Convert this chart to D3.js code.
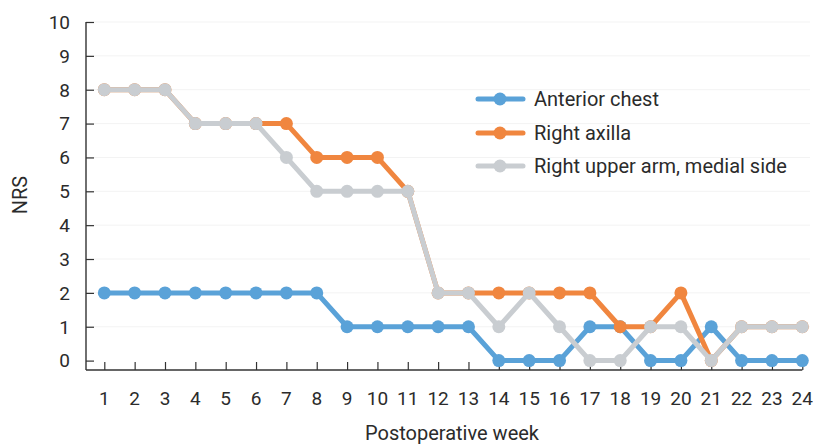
<!DOCTYPE html>
<html><head><meta charset="utf-8">
<script src="https://cdn.jsdelivr.net/npm/d3@7"></script>
<style>body{margin:0;background:#fff}svg{display:block}text{font-family:Roboto,"DejaVu Sans",sans-serif;fill:#2b2b2b}</style>
</head><body><svg id="c" width="815" height="444"></svg>
<script>
const weeks = d3.range(1, 25);
const seriesNames = ["Anterior chest", "Right axilla", "Right upper arm, medial side"];
const anteriorChest = [2,2,2,2,2,2,2,2,1,1,1,1,1,0,0,0,1,1,0,0,1,0,0,0];
const rightAxilla   = [8,8,8,7,7,7,7,6,6,6,5,2,2,2,2,2,2,1,1,2,0,1,1,1];
const rightUpperArm = [8,8,8,7,7,7,6,5,5,5,5,2,2,1,2,1,0,0,1,1,0,1,1,1];
const yTicks = d3.range(0, 11);
const colors = ["#5aa2d8", "#f0863f", "#c9cdd1"];

const svg = d3.select("#c");
const x = d3.scaleLinear().domain([1, 24]).range([104.3, 802.3]);
const y = d3.scaleLinear().domain([0, 10]).range([360.6, 22]);
const axisY = 370, axisX = 86;

// faint gridlines
svg.append("g").selectAll("line").data(yTicks.slice(1)).join("line")
  .attr("x1", axisX).attr("x2", 810).attr("y1", d => y(d)).attr("y2", d => y(d))
  .attr("stroke", "#f3f3f3").attr("stroke-width", 1);

// y axis
const ya = svg.append("g").attr("transform", `translate(${axisX},0)`)
  .call(d3.axisRight(y).tickValues(yTicks).tickSize(8).tickFormat(""));
ya.select(".domain").remove();
ya.selectAll("line").attr("stroke", "#333").attr("stroke-width", 1.2);
svg.append("line").attr("x1", axisX).attr("x2", axisX).attr("y1", y(10)).attr("y2", axisY)
  .attr("stroke", "#333").attr("stroke-width", 1.4);
svg.append("g").selectAll("text").data(yTicks).join("text")
  .attr("x", 70).attr("y", d => y(d)).attr("dy", "0.36em").attr("text-anchor", "end")
  .attr("font-size", 19).text(d => d);

// x axis
const xa = svg.append("g").attr("transform", `translate(0,${axisY})`)
  .call(d3.axisTop(x).tickValues(weeks).tickSize(8).tickFormat(""));
xa.select(".domain").remove();
xa.selectAll("line").attr("stroke", "#333").attr("stroke-width", 1.2);
svg.append("line").attr("x1", axisX).attr("x2", x(24)).attr("y1", axisY).attr("y2", axisY)
  .attr("stroke", "#333").attr("stroke-width", 1.4);
svg.append("g").selectAll("text").data(weeks).join("text")
  .attr("x", d => x(d)).attr("y", 398).attr("dy", "0.36em").attr("text-anchor", "middle")
  .attr("font-size", 19).text(d => d);

svg.append("text").attr("x", 452).attr("y", 433).attr("dy", "0.36em").attr("text-anchor", "middle")
  .attr("font-size", 20).text("Postoperative week");
svg.append("text").attr("transform", "translate(20,195) rotate(-90)").attr("dy", "0.36em")
  .attr("text-anchor", "middle").attr("font-size", 20).text("NRS");

// series
const data = [anteriorChest, rightAxilla, rightUpperArm];
const line = d3.line().x((d, i) => x(weeks[i])).y(d => y(d));
data.forEach((vals, k) => {
  const g = svg.append("g");
  g.append("path").datum(vals).attr("d", line).attr("fill", "none")
    .attr("stroke", colors[k]).attr("stroke-width", 5).attr("stroke-linejoin", "round");
  g.selectAll("circle").data(vals).join("circle")
    .attr("cx", (d, i) => x(weeks[i])).attr("cy", d => y(d)).attr("r", 6.5).attr("fill", colors[k]);
});

// legend
const lg = svg.append("g");
const legY = [99, 133, 166];
seriesNames.forEach((n, k) => {
  lg.append("line").attr("x1", 478).attr("x2", 523).attr("y1", legY[k]).attr("y2", legY[k])
    .attr("stroke", colors[k]).attr("stroke-width", 5).attr("stroke-linecap", "round");
  lg.append("circle").attr("cx", 500).attr("cy", legY[k]).attr("r", 6.5).attr("fill", colors[k]);
  lg.append("text").attr("x", 534).attr("y", legY[k]).attr("dy", "0.36em")
    .attr("font-size", 20).text(n);
});
</script></body></html>
